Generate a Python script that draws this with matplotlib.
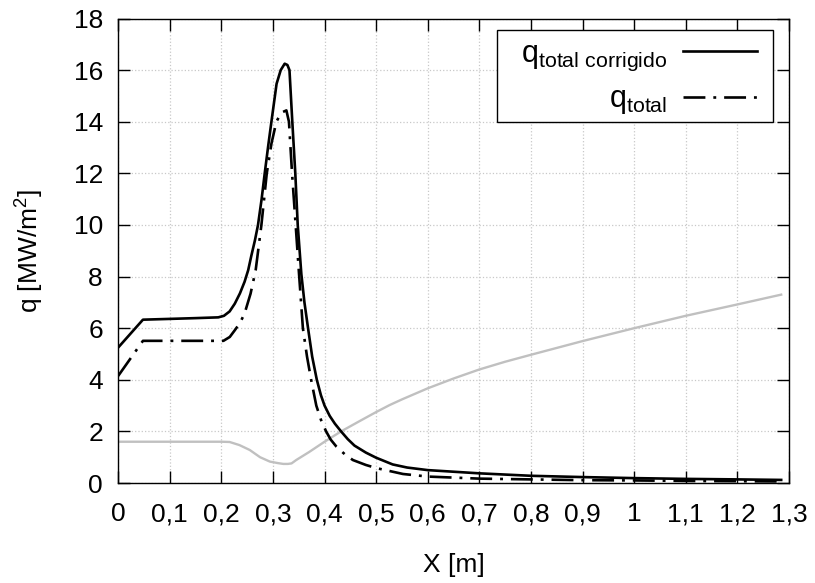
#!/usr/bin/env python3
"""Heat flux along X: corrected total q vs. uncorrected total q."""
import matplotlib
matplotlib.use("Agg")
import matplotlib.pyplot as plt
from matplotlib.patches import Rectangle

plt.rcParams.update({
    "font.family": ["Liberation Sans", "DejaVu Sans"],
    "font.size": 19,
    "mathtext.fontset": "custom",
    "mathtext.rm": "Liberation Sans",
    "mathtext.it": "Liberation Sans:italic",
    "mathtext.bf": "Liberation Sans:bold",
    "mathtext.default": "regular",
})

# q_total corrigido (solid black)
x_corr = [0.0, 0.048, 0.10, 0.15, 0.194, 0.205, 0.216, 0.226, 0.236, 0.245,
          0.252, 0.258, 0.265, 0.271, 0.278, 0.284, 0.291, 0.297, 0.307,
          0.315, 0.3227, 0.328, 0.332, 0.3375, 0.3433, 0.348, 0.355, 0.361,
          0.368, 0.376, 0.385, 0.393, 0.40, 0.41, 0.42, 0.432, 0.445, 0.458,
          0.48, 0.50, 0.532, 0.56, 0.60, 0.70, 0.80, 0.90, 1.00, 1.10, 1.20,
          1.285]
q_corr = [5.25, 6.33, 6.36, 6.39, 6.42, 6.48, 6.65, 6.95, 7.35, 7.8,
          8.25, 8.8, 9.4, 10.0, 11.0, 12.0, 13.1, 14.0, 15.47,
          16.0, 16.25, 16.2, 16.0, 14.0, 12.0, 10.0, 8.1, 7.0,
          6.0, 4.9, 4.0, 3.4, 3.0, 2.6, 2.3, 2.0, 1.7, 1.45,
          1.18, 0.98, 0.72, 0.6, 0.5, 0.375, 0.28, 0.23, 0.19, 0.16, 0.14,
          0.12]

# q_total (dash-dot black)
x_tot = [0.0, 0.048, 0.10, 0.15, 0.204, 0.2163, 0.226, 0.236, 0.245, 0.2566,
         0.2665, 0.2776, 0.288, 0.297, 0.3066, 0.316, 0.326, 0.331, 0.337,
         0.344, 0.350, 0.358, 0.366, 0.374, 0.384, 0.393, 0.403, 0.412,
         0.423, 0.44, 0.455, 0.48, 0.50, 0.552, 0.60, 0.70, 0.80, 0.90, 1.00,
         1.10, 1.20, 1.285]
q_tot = [4.15, 5.51, 5.51, 5.51, 5.51, 5.66, 5.92, 6.2, 6.57, 7.34,
         8.25, 10.0, 12.0, 13.15, 14.0, 14.35, 14.44, 14.0, 12.0,
         10.0, 8.25, 6.0, 4.9, 4.0, 3.0, 2.45, 2.0, 1.68,
         1.41, 1.1, 0.89, 0.7, 0.58, 0.35, 0.25, 0.17, 0.14, 0.11, 0.10,
         0.08, 0.07, 0.06]

# unlabelled light grey curve
x_grey = [0.0, 0.10, 0.20, 0.216, 0.235, 0.255, 0.275, 0.294, 0.31, 0.32,
          0.329, 0.336, 0.345, 0.37, 0.40, 0.432, 0.468, 0.50, 0.526, 0.55,
          0.60, 0.65, 0.70, 0.75, 0.80, 0.90, 1.00, 1.10, 1.20, 1.285]
q_grey = [1.6, 1.6, 1.6, 1.59, 1.47, 1.28, 1.0, 0.83, 0.77, 0.74,
          0.74, 0.76, 0.89, 1.2, 1.6, 2.0, 2.4, 2.75, 3.02, 3.24,
          3.67, 4.05, 4.4, 4.7, 4.97, 5.5, 6.0, 6.48, 6.92, 7.3]

x_ticks = [0.0, 0.1, 0.2, 0.3, 0.4, 0.5, 0.6, 0.7, 0.8, 0.9, 1.0, 1.1, 1.2, 1.3]
x_tick_labels = ["0", "0,1", "0,2", "0,3", "0,4", "0,5", "0,6", "0,7",
                 "0,8", "0,9", "1", "1,1", "1,2", "1,3"]
y_ticks = [0, 2, 4, 6, 8, 10, 12, 14, 16, 18]

label_corr = r"q$_{total\ corrigido}$"
label_tot = r"q$_{total}$"


def main() -> int:
    fig = plt.figure(figsize=(8.15, 5.83), dpi=100)
    ax = fig.add_axes([0.145, 0.1715, 0.823, 0.7967])

    dashdot = (0, (8.3, 3.0, 1.1, 3.0))
    ax.plot(x_grey, q_grey, color="#c0c0c0", lw=1.7)
    ax.plot(x_corr, q_corr, color="k", lw=1.9, label=label_corr)
    ax.plot(x_tot, q_tot, color="k", lw=1.9, ls=dashdot, label=label_tot)

    ax.set_xlim(0, 1.3)
    ax.set_ylim(0, 18)
    ax.set_xticks(x_ticks, x_tick_labels)
    ax.set_yticks(y_ticks)
    ax.tick_params(direction="in", length=8.5, width=1, top=True, right=True)
    ax.tick_params(axis="x", pad=14)
    ax.tick_params(axis="y", pad=11)
    ax.grid(True, ls=":", color="#c8c8c8", lw=0.9)
    ax.set_axisbelow(True)
    for spine in ax.spines.values():
        spine.set_linewidth(1)

    ax.set_xlabel("X [m]", labelpad=19)
    ax.set_ylabel("q [MW/m$^2$]", labelpad=20)

    # gnuplot-style key: boxed, text right-aligned left of the samples
    ax.add_patch(Rectangle((0.5648, 0.7772), 0.4115, 0.198,
                           transform=ax.transAxes, facecolor="white",
                           edgecolor="k", lw=1, zorder=4))
    leg = ax.legend(loc="upper right", bbox_to_anchor=(0.9525, 0.957),
                    borderaxespad=0, borderpad=0, frameon=False,
                    markerfirst=False, fontsize=22, handlelength=2.42,
                    handletextpad=0.52, labelspacing=0.38)
    leg.set_zorder(5)

    fig.savefig("out.png", dpi=100)
    plt.close(fig)
    return 0


if __name__ == "__main__":
    raise SystemExit(main())
